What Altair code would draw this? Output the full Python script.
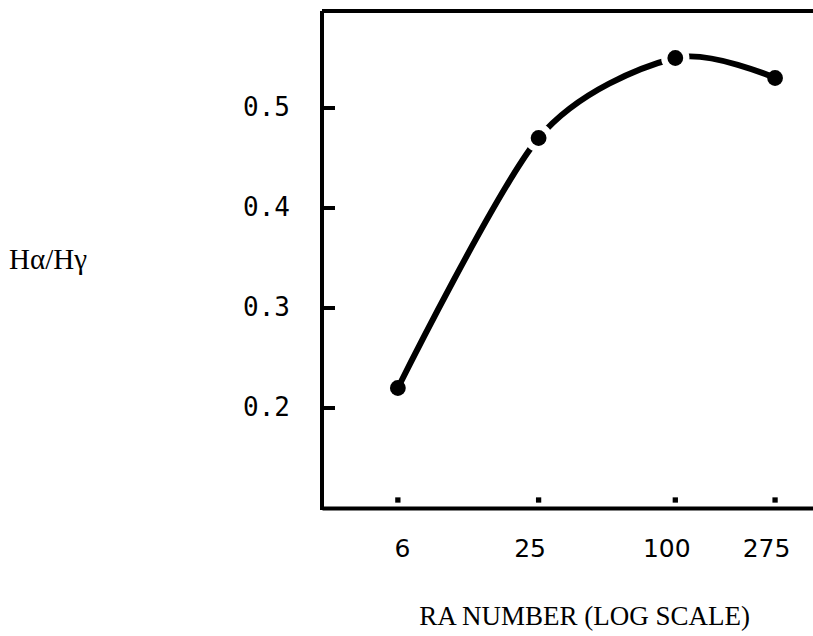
import altair as alt
import pandas as pd

# Balmer decrement against RA number
ra_number = [6, 25, 100, 275]
ratio = [0.22, 0.47, 0.55, 0.53]

y_tick_values = [0.2, 0.3, 0.4, 0.5]
x_tick_values = [6, 25, 100, 275]
y_title = "Hα/Hγ"

points = pd.DataFrame({"ra": ra_number, "ratio": ratio})
tick_data = alt.InlineData(values=[{"ratio": v} for v in y_tick_values])
title_data = alt.InlineData(values=[{"label": y_title}])

W, H = 491, 497

x_scale = alt.Scale(type="log", domain=[2.78, 404])
y_scale = alt.Scale(domain=[0.1, 0.597])

x_axis = alt.Axis(
    values=x_tick_values,
    format="d",
    ticks=False,
    title="RA NUMBER (LOG SCALE)",
    titleFont="Liberation Serif",
    titleFontSize=27,
    titleFontWeight="normal",
    titleX=262,
    titleY=108,
    titleAlign="center",
    titleBaseline="middle",
    labelFont="DejaVu Sans",
    labelFontSize=25,
    labelPadding=28,
    labelOffset={"condition": {"test": "datum.value == 6", "value": 4}, "value": -9},
)

x_enc = alt.X("ra:Q", scale=x_scale, axis=x_axis)
y_enc = alt.Y("ratio:Q", scale=y_scale, axis=None)

base = alt.Chart(points)

curve = base.mark_line(
    color="black", strokeWidth=6, interpolate="cardinal", tension=0.15, strokeCap="round"
).encode(x=x_enc, y=y_enc)

# white halos leave the pen gaps around the two middle points
halo = base.transform_filter(
    (alt.datum.ra == 25) | (alt.datum.ra == 100)
).mark_point(filled=True, color="white", opacity=1, size=800).encode(x=x_enc, y=y_enc)

dots = base.mark_circle(color="black", opacity=1, size=250).encode(x=x_enc, y=y_enc)

# small square markers above the bottom axis
x_tick_marks = base.mark_square(color="black", opacity=1, size=28).encode(
    x=x_enc, y=alt.value(H - 8)
)

# hand-built left axis: frame line, inward ticks, labels and title
frame = alt.Chart(title_data)

left_line = frame.mark_rule(color="black", strokeWidth=4).encode(
    x=alt.value(0), y=alt.value(0), y2=alt.value(H + 2)
)

top_line = frame.mark_rule(color="black", strokeWidth=4).encode(
    x=alt.value(0), x2=alt.value(W), y=alt.value(0)
)

y_tick_marks = alt.Chart(tick_data).mark_rule(color="black", strokeWidth=4).encode(
    y=alt.Y("ratio:Q", scale=y_scale, axis=None),
    x=alt.value(0),
    x2=alt.value(13),
)

y_labels = alt.Chart(tick_data).mark_text(
    font="DejaVu Sans Mono", fontSize=26, align="right", baseline="middle", color="black"
).encode(
    y=alt.Y("ratio:Q", scale=y_scale, axis=None),
    x=alt.value(-32),
    text=alt.Text("ratio:Q", format=".1f"),
)

y_title_text = frame.mark_text(
    font="Liberation Serif", fontSize=29, align="left", baseline="middle", color="black"
).encode(x=alt.value(-313), y=alt.value(249), text="label:N")

chart = (
    alt.layer(
        curve, halo, dots, x_tick_marks,
        left_line, top_line, y_tick_marks, y_labels, y_title_text,
    )
    .properties(
        width=W,
        height=H,
        autosize="none",
        padding={"left": 322, "top": 11, "right": 0, "bottom": 128},
        background="white",
    )
    .configure_view(stroke=None)
    .configure_axis(
        domainColor="black",
        domainWidth=4,
        grid=False,
        labelColor="black",
        titleColor="black",
    )
)

chart.save("out.html", embed_options={"renderer": "svg", "actions": False})
